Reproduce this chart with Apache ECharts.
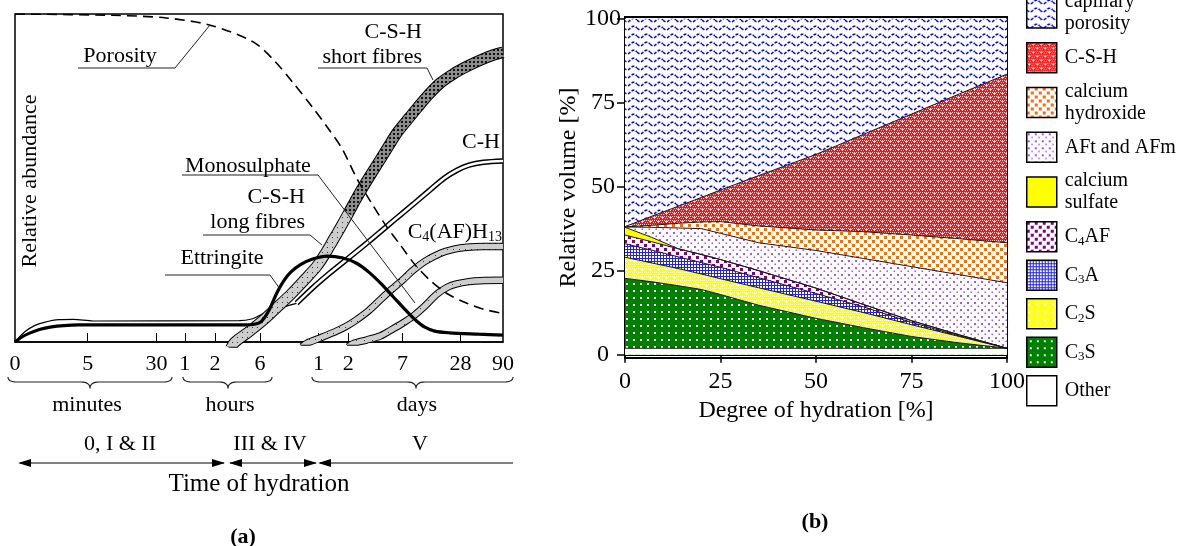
<!DOCTYPE html>
<html><head><meta charset="utf-8">
<script src="https://cdn.jsdelivr.net/npm/echarts@6/dist/echarts.min.js"></script>
<style>html,body{margin:0;padding:0;background:#fff}#c{width:1179px;height:546px}</style>
</head><body><div id="c"></div>
<script>
// ================= Panel (a) data =================
const tickPosA = [0, 14.9, 29.0, 34.8, 41.0, 50.2, 62.2, 68.3, 79.4, 91.3, 100];
const tickLabelsA = ['0', '5', '30', '1', '2', '6', '1', '2', '7', '28', '90'];
const porosity = [[0,100],[20,99.6],[31,98.8],[40,96.6],[48.8,91.5],[53,86],[57,79],[61,71.5],[64,65.5],[67,59],[70,50],[73,42.5],[76,35.5],[79,29.5],[82,23.5],[85,18.9],[88.5,14.8],[92.6,11.8],[96,10],[100,8.7]];
const ettringite = [[0,0],[1.5,1.6],[3,2.7],[5,3.8],[7.5,4.6],[10,5],[13,5.2],[47,5.2],[49,5.4],[50.5,6.3],[52,9.5],[53.6,14.8],[55,18.5],[56.5,21.3],[58.5,23.6],[61,25.3],[64,26.2],[67,25.7],[70,24],[72.5,21.3],[75,17.8],[77.5,13.8],[80,9.8],[82,6.8],[84,4.5],[86,3.3],[89,2.8],[95,2.4],[100,2.1]];
const chEarly = [[0,0],[2,3.1],[4,5],[6,6],[9,6.8],[12,6.9],[16,6.4],[46,6.5],[48.5,7],[50,8],[51.6,9.2],[54,10.3],[57.7,11.8]];
const chLine = [[57.7,11.8],[61,16.5],[64.5,21],[68,25.2],[71.4,29.3],[74.8,33.5],[78.2,37.8],[81.6,42],[85,46.3],[88,50],[90.5,52.3],[93,53.9],[96,54.8],[100,55.2]];
const cshLong = [[44.2,-2],[45.1,0],[48,3.2],[50.9,6.7],[53.8,10.7],[56.7,14.8],[59.3,18.9],[61.8,23],[63.6,27],[65.2,31.1],[66.8,35.2],[68.3,39.2]];
const cshShort = [[68.3,39.2],[69.8,43.3],[71.4,47.4],[73.1,51.5],[74.8,55.5],[76.5,59.6],[78.2,63.6],[80.4,67.7],[82.6,71.7],[84.8,75.5],[87.1,78.9],[89.8,81.7],[92.6,84],[95.3,85.9],[98,87.5],[100,88.3]];
const c4afh13 = [[58.8,-1.5],[59.8,-0.4],[63,1.5],[66,3.4],[68,4.9],[70,6.8],[72.5,9.6],[74.8,12.8],[77,15.8],[79.5,19],[81.6,21.9],[84,24.6],[87.1,27],[90,28.3],[92.6,28.9],[96,29.1],[100,29.1]];
const monosulphate = [[68.3,-1.5],[69.3,-0.5],[72,0.6],[74.8,1.8],[77,3.6],[79.5,5.8],[81.6,7.9],[84,11],[86.4,14.5],[88.5,16.6],[90.5,17.7],[93,18.4],[95.3,18.7],[100,18.8]];

// ================= Panel (b) data (layer thickness, % volume) =================
const hydration = [0, 7, 14, 20, 25, 35, 50, 62.5, 75, 87.5, 100];
const other     = [1.9, 1.9, 1.9, 1.9, 1.9, 1.9, 1.9, 1.9, 1.9, 1.9, 1.9];
const c3s       = [20.8, 19.8, 18.6, 17.5, 16.0, 12.8, 8.9, 6.1, 3.5, 1.6, 0];
const c2s       = [6.3, 5.6, 5.1, 4.6, 4.7, 5.2, 5.1, 4.5, 3.5, 1.9, 0];
const c3a       = [4.0, 3.8, 3.5, 3.4, 3.4, 3.0, 2.3, 1.7, 0.7, 0.2, 0];
const c4af      = [2.6, 2.5, 2.4, 2.4, 2.3, 2.1, 1.6, 0.7, 0.5, 0.3, 0];
const gypsum    = [2.3, 1.3, 0, 0, 0, 0, 0, 0, 0, 0, 0];
const aftAfm    = [0.1, 3.0, 6.2, 7.7, 7.8, 8.3, 11.2, 13.7, 16.1, 17.9, 19.5];
const caOH2     = [0, 0.6, 1.4, 2.0, 3.5, 5.0, 6.1, 8.0, 9.4, 10.7, 11.9];
const cshB      = [0.1, 2.7, 5.1, 7.3, 9.4, 15.0, 22.5, 29.0, 36.0, 43.1, 50.2];
const pores     = [61.9, 58.8, 55.8, 53.2, 51.0, 46.7, 40.4, 34.4, 28.4, 22.4, 16.5];
const yTicksB = [0, 25, 50, 75, 100];

// ================= styles =================
const FONT = 'Liberation Serif';
function pat(w, h, bg, draw) {
  const c = document.createElement('canvas'); c.width = w; c.height = h;
  const g = c.getContext('2d');
  if (bg) { g.fillStyle = bg; g.fillRect(0, 0, w, h); }
  if (draw) draw(g);
  return { image: c, repeat: 'repeat' };
}
function rects(g, col, list) { g.fillStyle = col; list.forEach(r => g.fillRect(r[0], r[1], r[2], r[3])); }

const P = {
  pore: pat(13, 8, '#fff', g => { g.strokeStyle = '#0000f0'; g.lineWidth = 1.6; g.setLineDash([3, 1.5]); g.beginPath();
    for (let x = 0; x <= 13; x += 0.5) { const y = 4 + 1.8 * Math.sin(x / 13 * 2 * Math.PI); if (x === 0) g.moveTo(x, y); else g.lineTo(x, y); } g.stroke(); }),
  csh: pat(8, 8, '#ff1010', g => rects(g, '#ffd0d0', [[0,0,1,1],[2,0,1,1],[4,0,1,1],[6,0,1,1],[0,4,1,1],[2,4,1,1],[4,4,1,1],[6,4,1,1],[1,2,1,1],[5,6,1,1],[3,2,1,1],[7,6,1,1],[5,1,3,1],[6,0,1,3],[1,5,3,1],[2,4,1,3]])),
  ch: pat(8, 8, '#fff', g => rects(g, '#ff6a00', [[0,0,3,3],[4,4,3,3]])),
  aft: pat(7, 7, '#fff', g => rects(g, '#a855f7', [[1,1,2,2],[4.5,4.5,1.5,1.5]])),
  gyp: '#ffff00',
  c4af: pat(8, 8, '#fff', g => rects(g, '#800080', [[0,0,3,3],[4,4,3,3]])),
  c3a: pat(3, 3, '#1f1fff', g => rects(g, '#fff', [[1,1,2,2]])),
  c2s: pat(8, 8, '#ffff10', g => rects(g, '#ffffd0', [[0,0,1,1],[2,0,1,1],[4,0,1,1],[6,0,1,1],[0,4,1,1],[2,4,1,1],[4,4,1,1],[6,4,1,1],[1,2,1,1],[3,2,1,1],[1,5,3,1],[2,4,1,3]])),
  c3s: pat(7, 7, '#008000', g => rects(g, '#fff', [[3,3,2,2]])),
  other: '#fff',
  bandLight: pat(5, 5, '#cdcdcd', g => rects(g, '#333', [[2,2,1,1]])),
  bandDark: pat(4, 4, '#8c8c8c', g => rects(g, '#111', [[1,1,2,2]])),
  bandC4: pat(6, 6, '#cdcdcd', g => rects(g, '#333', [[3,3,1,1]])),
  bandMono: pat(8, 8, '#cdcdcd', g => rects(g, '#444', [[4,4,1,1]]))
};

// ================= panel (a) series =================
function aLine(name, data, color, width, extra) {
  return Object.assign({ name, type: 'line', xAxisIndex: 0, yAxisIndex: 0, data, symbol: 'none', smooth: 0.3,
    silent: true, lineStyle: { color, width }, emphasis: { disabled: true } }, extra || {});
}
const seriesA = [
  aLine('a-ch-early', chEarly, '#000', 1.2),
  aLine('a-ch-outer', chLine, '#000', 5.5),
  aLine('a-ch-inner', chLine, '#fff', 2.6),
  aLine('a-mono-outer', monosulphate, '#000', 7.5),
  aLine('a-mono-inner', monosulphate, P.bandMono, 5.5),
  aLine('a-c4-outer', c4afh13, '#000', 7.5),
  aLine('a-c4-inner', c4afh13, P.bandC4, 5.5),
  aLine('a-csh-outer', cshLong.concat(cshShort.slice(1)), '#000', 11.5),
  aLine('a-csh-long', cshLong, P.bandLight, 9.5),
  aLine('a-csh-short', cshShort, P.bandDark, 9.5),
  aLine('a-ettringite', ettringite, '#000', 3.2),
  aLine('a-porosity', porosity, '#000', 1.6, { lineStyle: { color: '#000', width: 1.6, type: [10, 6] } })
];

// ================= panel (b) series (painter's order, cumulative tops) =================
const layers = [ // top to bottom
  { name: 'capillary porosity', v: pores, fill: P.pore, lw: 0 },
  { name: 'C-S-H', v: cshB, fill: P.csh, lw: 1 },
  { name: 'calcium hydroxide', v: caOH2, fill: P.ch, lw: 1 },
  { name: 'AFt and AFm', v: aftAfm, fill: P.aft, lw: 1 },
  { name: 'calcium sulfate', v: gypsum, fill: P.gyp, lw: 1 },
  { name: 'C4AF', v: c4af, fill: P.c4af, lw: 1 },
  { name: 'C3A', v: c3a, fill: P.c3a, lw: 1 },
  { name: 'C2S', v: c2s, fill: P.c2s, lw: 1 },
  { name: 'C3S', v: c3s, fill: P.c3s, lw: 1 },
  { name: 'Other', v: other, fill: P.other, lw: 1 }
];
const seriesB = layers.map((L, i) => {
  const below = layers.slice(i);
  const data = hydration.map((x, k) => [x, below.reduce((s, b) => s + b.v[k], 0)]);
  return { name: L.name, type: 'line', xAxisIndex: 1, yAxisIndex: 1, data, symbol: 'none', silent: true,
    lineStyle: { color: '#1a1a1a', width: L.lw }, itemStyle: { color: L.fill },
    areaStyle: { color: L.fill, opacity: 1, origin: 0 }, emphasis: { disabled: true } };
});

const legendFmt = {
  'capillary porosity': 'capillary\nporosity', 'calcium hydroxide': 'calcium\nhydroxide', 'calcium sulfate': 'calcium\nsulfate',
  'C4AF': '{t|C}{s|4}{t|AF}', 'C3A': '{t|C}{s|3}{t|A}', 'C2S': '{t|C}{s|2}{t|S}', 'C3S': '{t|C}{s|3}{t|S}'
};

// ================= graphic annotations =================
const G = [];
function txt(text, x, y, opt) {
  G.push(Object.assign({ type: 'text', x, y, z: 100, silent: true,
    style: Object.assign({ text, fill: '#000', fontFamily: FONT, fontSize: 22, align: 'center', verticalAlign: 'middle' }, (opt && opt.style) || {}) },
    opt && opt.rotation ? { rotation: opt.rotation } : {}));
}
function poly(points, w) { G.push({ type: 'polyline', z: 90, silent: true, shape: { points }, style: { stroke: '#222', lineWidth: w || 1, fill: null } }); }
function quad(p0, c, p1, n) { const out = []; for (let i = 0; i <= n; i++) { const t = i / n; out.push([(1-t)*(1-t)*p0[0] + 2*(1-t)*t*c[0] + t*t*p1[0], (1-t)*(1-t)*p0[1] + 2*(1-t)*t*c[1] + t*t*p1[1]]); } return out; }
function brace(x1, x2, mid, y) {
  const h = 5, tip = 11.5, r = 9;
  const pts = [].concat(
    quad([x1, y], [x1, y + h], [x1 + r, y + h], 8),
    quad([mid - r, y + h], [mid, y + h], [mid, y + tip], 8),
    quad([mid, y + tip], [mid, y + h], [mid + r, y + h], 8),
    quad([x2 - r, y + h], [x2, y + h], [x2, y], 8));
  poly(pts, 1.2);
}
function arrowHead(x, y, dir) { G.push({ type: 'polygon', z: 90, silent: true, shape: { points: [[x, y], [x - dir * 13, y - 4], [x - dir * 13, y + 4]] }, style: { fill: '#000' } }); }
function hline(x1, x2, y) { G.push({ type: 'line', z: 90, silent: true, shape: { x1, y1: y, x2, y2: y }, style: { stroke: '#000', lineWidth: 1.2 } }); }

// panel (a) labels and leaders
txt('Relative abundance', 30, 181, { rotation: Math.PI / 2 });
txt('Porosity', 120, 56); poly([[78, 68], [175, 68], [210, 25]]);
txt('C-S-H', 422, 32, { style: { align: 'right' } });
txt('short fibres', 422, 57, { style: { align: 'right' } }); poly([[318, 68], [427, 68], [433, 80]]);
txt('C-H', 500, 142, { style: { align: 'right' } });
txt('Monosulphate', 185, 166, { style: { align: 'left' } }); poly([[182, 175], [318, 175], [415, 303]]);
txt('C-S-H', 305, 197, { style: { align: 'right' } });
txt('long fibres', 305, 222, { style: { align: 'right' } }); poly([[203, 235], [310, 235], [322, 245]]);
txt('Ettringite', 222, 258); poly([[165, 275], [270, 275], [280, 289]]);
txt('{t|C}{s|4}{t|(AF)H}{s|13}', 502, 232, { style: { align: 'right', rich: {
  t: { fontFamily: FONT, fontSize: 22, lineHeight: 24 }, s: { fontFamily: FONT, fontSize: 14, lineHeight: 15, verticalAlign: 'bottom' } } } });
// time scale groups
brace(8, 172, 90, 377); brace(183, 272, 228, 377); brace(312, 513, 416, 377);
txt('minutes', 87, 405); txt('hours', 230, 405); txt('days', 417, 405);
txt('0, I & II', 120, 444); txt('III & IV', 270, 444); txt('V', 420, 444);
hline(20, 224, 463); arrowHead(18, 463, -1); arrowHead(225, 463, 1);
hline(230, 316, 463); arrowHead(229, 463, -1); arrowHead(317, 463, 1);
hline(320, 513, 463); arrowHead(318, 463, -1);
txt('Time of hydration', 259, 484, { style: { fontSize: 25 } });
txt('(a)', 243, 537, { style: { fontWeight: 'bold', fontSize: 22 } });
txt('(b)', 815, 522, { style: { fontWeight: 'bold', fontSize: 22 } });

const option = {
  animation: false,
  backgroundColor: '#fff',
  textStyle: { fontFamily: FONT, color: '#000' },
  grid: [
    { left: 15, top: 14, width: 488, height: 328, show: true, borderColor: '#000', borderWidth: 1.5, backgroundColor: 'transparent' },
    { left: 625, top: 17, width: 382, height: 341, show: true, borderColor: '#000', borderWidth: 2, backgroundColor: 'transparent' }
  ],
  xAxis: [
    { gridIndex: 0, type: 'value', min: 0, max: 100,
      axisLine: { lineStyle: { color: '#000', width: 1.5 } },
      axisTick: { show: true, inside: true, length: 9, customValues: tickPosA.slice(1, -1), lineStyle: { color: '#000', width: 1 } },
      axisLabel: { customValues: tickPosA, formatter: v => tickLabelsA[tickPosA.indexOf(v)], fontSize: 22, fontFamily: FONT, color: '#000', margin: 11 },
      splitLine: { show: false } },
    { gridIndex: 1, type: 'value', min: 0, max: 100, interval: 25,
      axisLine: { lineStyle: { color: '#000', width: 2 } },
      axisTick: { length: 8, lineStyle: { color: '#000', width: 1.5 } },
      axisLabel: { fontSize: 24, fontFamily: FONT, color: '#000', margin: 12 },
      splitLine: { show: false },
      name: 'Degree of hydration [%]', nameLocation: 'middle', nameGap: 41,
      nameTextStyle: { fontSize: 24, fontFamily: FONT, color: '#000' } }
  ],
  yAxis: [
    { gridIndex: 0, type: 'value', min: 0, max: 100, show: false },
    { gridIndex: 1, type: 'value', min: -1, max: 100.5,
      axisLine: { show: true, lineStyle: { color: '#000', width: 2 } },
      axisTick: { show: true, length: 8, customValues: yTicksB, lineStyle: { color: '#000', width: 1.5 } },
      axisLabel: { customValues: yTicksB, fontSize: 24, fontFamily: FONT, color: '#000', align: 'center', margin: 22 },
      splitLine: { show: false },
      name: 'Relative volume [%]', nameLocation: 'middle', nameGap: 40,
      nameTextStyle: { fontSize: 24, fontFamily: FONT, color: '#000' } }
  ],
  legend: {
    orient: 'vertical', left: 1026, top: -9, padding: 0, itemWidth: 30, itemHeight: 30, itemGap: 7,
    icon: 'rect', selectedMode: false,
    data: layers.map(L => ({ name: L.name, itemStyle: { color: L.fill, borderColor: '#000', borderWidth: 1.5 } })),
    formatter: n => legendFmt[n] || n,
    textStyle: { fontFamily: FONT, fontSize: 20, lineHeight: 22, color: '#000', padding: [0, 0, 0, 3],
      rich: { t: { fontFamily: FONT, fontSize: 20, lineHeight: 22 }, s: { fontFamily: FONT, fontSize: 13, lineHeight: 14, verticalAlign: 'bottom' } } }
  },
  graphic: { elements: G },
  series: seriesA.concat(seriesB)
};
const chart = echarts.init(document.getElementById('c'), null, { renderer: 'canvas' });
chart.setOption(option);
</script>
</body></html>
